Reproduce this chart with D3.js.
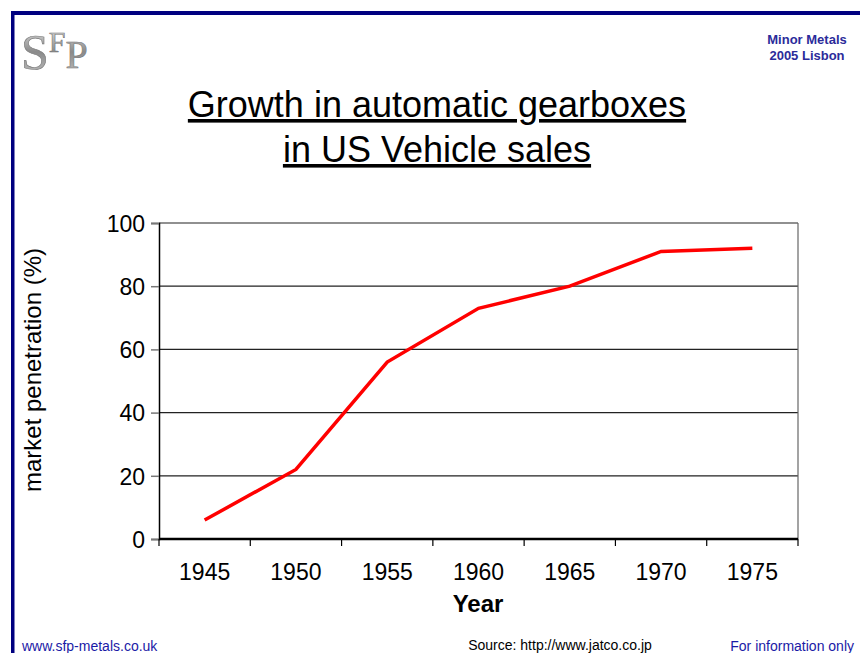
<!DOCTYPE html>
<html>
<head>
<meta charset="utf-8">
<title>Growth in automatic gearboxes</title>
<script src="https://d3js.org/d3.v7.min.js"></script>
<style>
html, body { margin: 0; padding: 0; background: #fff; }
svg { display: block; font-family: "Liberation Sans", Arial, sans-serif; }
</style>
</head>
<body>
<svg id="chart" width="860" height="653"></svg>
<script>
// data
var years = ["1945", "1950", "1955", "1960", "1965", "1970", "1975"];
var penetration = [6, 22, 56, 73, 80, 91, 92];
var yTicks = [0, 20, 40, 60, 80, 100];

var svg = d3.select("#chart");
var navy = "#000080";

// slide frame
svg.append("rect").attr("x", 11).attr("y", 11).attr("width", 860).attr("height", 4).attr("fill", navy);
svg.append("rect").attr("x", 11).attr("y", 11).attr("width", 3.5).attr("height", 660).attr("fill", navy);

// logo
var grad = svg.append("defs").append("linearGradient")
    .attr("id", "metal").attr("x1", 0).attr("y1", 0).attr("x2", 0).attr("y2", 1);
grad.append("stop").attr("offset", "0%").attr("stop-color", "#e8e8e8");
grad.append("stop").attr("offset", "50%").attr("stop-color", "#8a8a8a");
grad.append("stop").attr("offset", "100%").attr("stop-color", "#c8c8c8");
var logo = svg.append("text").attr("x", 21).attr("y", 69)
    .attr("font-family", "'Liberation Serif', 'DejaVu Serif', serif")
    .attr("fill", "url(#metal)").attr("stroke", "#777").attr("stroke-width", 0.6);
logo.append("tspan").attr("font-size", 50).text("S");
logo.append("tspan").attr("font-size", 30).attr("dy", -17).text("F");
logo.append("tspan").attr("font-size", 40).attr("dy", 16).text("P");

// header right
svg.append("text").attr("x", 807).attr("y", 44).attr("text-anchor", "middle")
    .attr("font-size", 13).attr("font-weight", "bold").attr("fill", "#2b2b9a").text("Minor Metals");
svg.append("text").attr("x", 807).attr("y", 60).attr("text-anchor", "middle")
    .attr("font-size", 13).attr("font-weight", "bold").attr("fill", "#2b2b9a").text("2005 Lisbon");

// title
svg.append("text").attr("x", 437).attr("y", 117).attr("text-anchor", "middle")
    .attr("font-size", 36).attr("text-decoration", "underline").text("Growth in automatic gearboxes");
svg.append("text").attr("x", 437).attr("y", 162).attr("text-anchor", "middle")
    .attr("font-size", 36).attr("text-decoration", "underline").text("in US Vehicle sales");

var margin = { left: 159, top: 223, right: 798, bottom: 539 };

var x = d3.scaleBand().domain(years).range([margin.left, margin.right]);
var y = d3.scaleLinear().domain([0, 100]).range([margin.bottom, margin.top]);

// gridlines
svg.append("g")
  .selectAll("line")
  .data(yTicks.filter(d => d > 0))
  .join("line")
    .attr("x1", margin.left).attr("x2", margin.right)
    .attr("y1", d => y(d)).attr("y2", d => y(d))
    .attr("stroke", "#222").attr("stroke-width", 1.2);

// right border of plot
svg.append("line").attr("x1", margin.right).attr("x2", margin.right)
    .attr("y1", margin.top).attr("y2", margin.bottom).attr("stroke", "#666").attr("stroke-width", 1.2);

// y axis
var yAxis = svg.append("g").attr("transform", `translate(${margin.left},0)`)
    .call(d3.axisLeft(y).tickValues(yTicks).tickSize(8).tickPadding(6));
yAxis.select(".domain").attr("stroke", "#000").attr("stroke-width", 1.5);
yAxis.selectAll(".tick line").attr("stroke", "#777").attr("stroke-width", 1.5);
yAxis.selectAll("text").attr("font-size", 23).attr("font-family", "'Liberation Sans', Arial, sans-serif")
    .attr("fill", "#000").attr("dy", "0.36em");

// x axis, ticks between categories
var xAxis = svg.append("g").attr("transform", `translate(0,${margin.bottom})`);
xAxis.append("line").attr("x1", margin.left).attr("x2", margin.right)
    .attr("stroke", "#000").attr("stroke-width", 2.5);
var edges = years.map(d => x(d)).concat([margin.right]);
xAxis.selectAll(".tk").data(edges).join("line").attr("class", "tk")
    .attr("x1", d => d).attr("x2", d => d).attr("y1", 0).attr("y2", 7)
    .attr("stroke", "#000").attr("stroke-width", 1.2);
xAxis.selectAll(".lbl").data(years).join("text").attr("class", "lbl")
    .attr("x", d => x(d) + x.bandwidth() / 2).attr("y", 41)
    .attr("text-anchor", "middle").attr("font-size", 23).text(d => d);

// axis titles
svg.append("text").attr("x", 478).attr("y", 612).attr("text-anchor", "middle")
    .attr("font-size", 24).attr("font-weight", "bold").text("Year");
svg.append("text").attr("transform", "translate(41,370) rotate(-90)").attr("text-anchor", "middle")
    .attr("font-size", 24).text("market penetration (%)");

// series line
var line = d3.line()
    .x((d, i) => x(years[i]) + x.bandwidth() / 2)
    .y(d => y(d));
svg.append("path").datum(penetration)
    .attr("fill", "none").attr("stroke", "#ff0000").attr("stroke-width", 3.5)
    .attr("stroke-linejoin", "miter").attr("d", line);

// footer
svg.append("text").attr("x", 22).attr("y", 651).attr("font-size", 14).attr("fill", "#1a1aa6").text("www.sfp-metals.co.uk");
svg.append("text").attr("x", 560).attr("y", 650).attr("text-anchor", "middle").attr("font-size", 14).text("Source: http://www.jatco.co.jp");
svg.append("text").attr("x", 854).attr("y", 651).attr("text-anchor", "end").attr("font-size", 14).attr("fill", "#1a1aa6").text("For information only");
</script>
</body>
</html>
